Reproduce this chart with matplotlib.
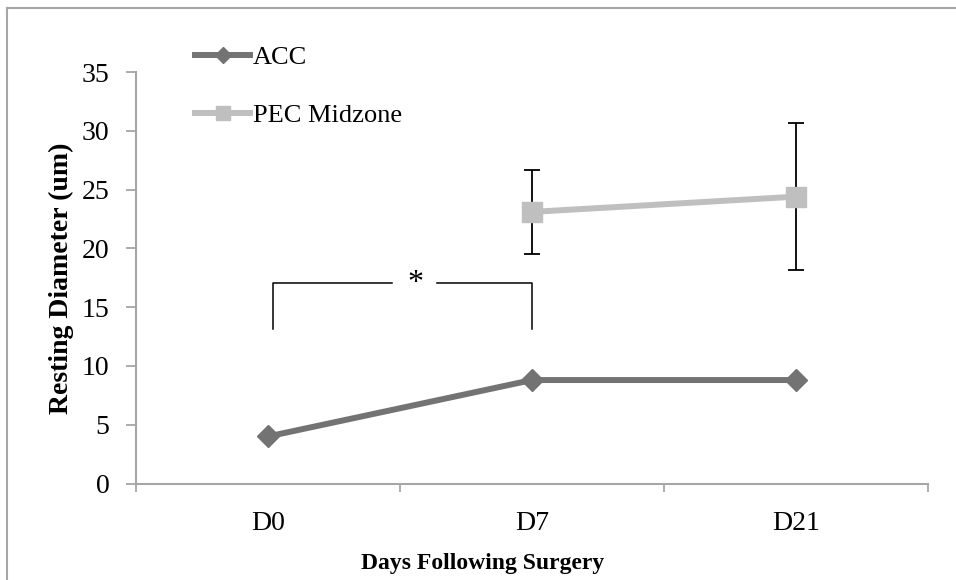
import numpy as np
import matplotlib.pyplot as plt
from matplotlib.lines import Line2D

plt.rcParams['font.family'] = ['Liberation Serif', 'DejaVu Serif']

days = ['D0', 'D7', 'D21']
acc = [4.0, 8.8, 8.8]
pec = [np.nan, 23.1, 24.4]
pec_err = [np.nan, 3.6, 6.25]
ylabels = [0, 5, 10, 15, 20, 25, 30, 35]

# significance bracket D0 -> D7
sig_x = [0.02, 1.0]
sig_y = [13.1, 17.05]

axis_col = '#a6a6a6'
acc_col = '#737373'
pec_col = '#bfbfbf'

fig = plt.figure(figsize=(9.56, 5.8), dpi=100)
ax = fig.add_axes([136/956, 1-483.5/580, (928-136)/956, (483.5-72)/580])

x = np.arange(len(days))
ax.plot(x, acc, color=acc_col, lw=4.3, marker='D', ms=11, mec=acc_col, zorder=3)
ax.plot(x, pec, color=pec_col, lw=4.3, marker='s', ms=15, mec=pec_col, zorder=3)
ax.errorbar(x, pec, yerr=pec_err, fmt='none', ecolor='black', elinewidth=1.3,
            capsize=6, capthick=1.3, zorder=2)

# bracket with gap for the star
xl, xr = sig_x
yb, yt = sig_y
ax.plot([xl, xl, 0.47], [yb, yt, yt], color='black', lw=1.1)
ax.plot([0.64, xr, xr], [yt, yt, yb], color='black', lw=1.1)
ax.text(0.557, yt, '*', ha='center', va='center', fontsize=23)

ax.set_xlim(-0.5, 2.5)
ax.set_ylim(0, 35)
ax.set_yticks(ylabels)
ax.set_xticks(x)
ax.set_xticklabels(days)
ax.set_xticks([-0.5, 0.5, 1.5, 2.5], minor=True)
ax.tick_params(axis='x', which='major', length=0, pad=20, labelsize=20)
ax.tick_params(axis='x', which='minor', length=6, width=1.3, color=axis_col, direction='out')
ax.tick_params(axis='y', length=7, width=1.3, color=axis_col, pad=12, labelsize=20)

for s in ['top', 'right']:
    ax.spines[s].set_visible(False)
for s in ['left', 'bottom']:
    ax.spines[s].set_color(axis_col)
    ax.spines[s].set_linewidth(1.5)

ax.set_ylabel('Resting Diameter (um)', fontsize=20, fontweight='bold', labelpad=6)
ax.set_xlabel('Days Following Surgery', fontsize=17, fontweight='bold')
ax.xaxis.set_label_coords((483-136)/792, -0.168)

handles = [Line2D([], [], color=acc_col, lw=4.3, marker='D', ms=8),
           Line2D([], [], color=pec_col, lw=4.3, marker='s', ms=10)]
fig.legend(handles, ['ACC', 'PEC Midzone'], loc='upper left',
           bbox_to_anchor=(195/956, 1-46/580), frameon=False, fontsize=19,
           handlelength=2.1, handletextpad=0.1, labelspacing=1.3,
           borderpad=0, borderaxespad=0)

# outer chart border (top and left visible)
fig.add_artist(Line2D([7/956, 1], [1-8/580, 1-8/580], transform=fig.transFigure,
                      color=axis_col, lw=1.5))
fig.add_artist(Line2D([7/956, 7/956], [0, 1-8/580], transform=fig.transFigure,
                      color=axis_col, lw=1.5))

fig.savefig('out.png', dpi=100)
